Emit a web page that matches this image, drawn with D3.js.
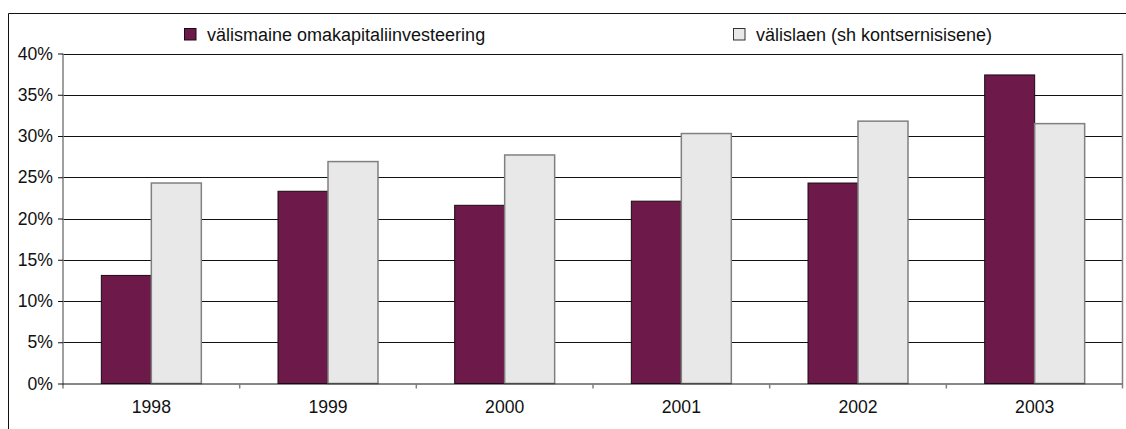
<!DOCTYPE html>
<html>
<head>
<meta charset="utf-8">
<script src="https://cdn.jsdelivr.net/npm/d3@7"></script>
<style>
  html, body { margin: 0; padding: 0; background: #fff; }
  svg { display: block; font-family: "Liberation Sans", Arial, sans-serif; }
</style>
</head>
<body>
<svg id="chart" width="1126" height="429"></svg>
<script>
// Aastad ja näitajad (osakaal, %)
const years = ["1998", "1999", "2000", "2001", "2002", "2003"];
const seriesNames = ["välismaine omakapitaliinvesteering", "välislaen (sh kontsernisisene)"];
const equityValues = [13.1, 23.3, 21.6, 22.1, 24.3, 37.4];
const loanValues = [24.3, 26.9, 27.7, 30.3, 31.8, 31.5];
const yTicks = [0, 5, 10, 15, 20, 25, 30, 35, 40];

const fills = ["#6d1a4a", "#e8e8e8"];
const strokes = ["#1a0a12", "#808080"];
const axisFont = 17.6;
const legendFont = 18;

const svg = d3.select("#chart");
const plot = { left: 63, right: 1123, top: 53.5, bottom: 383.5 };

const x = d3.scaleBand().domain(years).range([plot.left, plot.right]).paddingInner(0).paddingOuter(0);
const xs = d3.scaleBand().domain(seriesNames).range([0, x.bandwidth()]).paddingInner(0).paddingOuter(0.767);
const y = d3.scaleLinear().domain([0, 40]).range([plot.bottom, plot.top]);

// outer chart frame (top and left edges)
svg.append("path")
  .attr("d", `M8.5,429 V13.5 H1126`)
  .attr("fill", "none").attr("stroke", "#111").attr("stroke-width", 1);

// horizontal gridlines
svg.append("g")
  .selectAll("line").data(yTicks.filter(t => t > 0)).join("line")
  .attr("x1", plot.left).attr("x2", plot.right)
  .attr("y1", d => Math.round(y(d)) + 0.5).attr("y2", d => Math.round(y(d)) + 0.5)
  .attr("stroke", "#111").attr("stroke-width", 1);

// plot area right border
svg.append("line")
  .attr("x1", plot.right - 0.5).attr("x2", plot.right - 0.5)
  .attr("y1", plot.top).attr("y2", plot.bottom)
  .attr("stroke", "#808080").attr("stroke-width", 1.5);

// bars
const rows = years.map((yr, i) => ({ year: yr, vals: [equityValues[i], loanValues[i]] }));
const groups = svg.append("g").selectAll("g").data(rows).join("g")
  .attr("transform", d => `translate(${x(d.year)},0)`);
groups.selectAll("rect")
  .data(d => d.vals.map((v, k) => ({ v, k, name: seriesNames[k] })))
  .join("rect")
  .attr("x", d => xs(d.name))
  .attr("width", xs.bandwidth())
  .attr("y", d => y(d.v))
  .attr("height", d => y(0) - y(d.v))
  .attr("fill", d => fills[d.k])
  .attr("stroke", d => strokes[d.k])
  .attr("stroke-width", d => d.k === 0 ? 1 : 1.5);

// y axis
const yAxis = svg.append("g")
  .attr("transform", `translate(${plot.left},0)`)
  .call(d3.axisLeft(y).tickValues(yTicks).tickFormat(d => d + "%").tickSize(5).tickPadding(5));
yAxis.select(".domain").attr("stroke", "#808080").attr("stroke-width", 1.5)
  .attr("d", `M0,${plot.top}V${plot.bottom + 5}`);
yAxis.selectAll(".tick line").attr("stroke", "#111");
yAxis.selectAll("text").attr("font-size", axisFont).attr("fill", "#111")
  .attr("font-family", "Liberation Sans, Arial, sans-serif");

// x axis
const xAxis = svg.append("g")
  .attr("transform", `translate(0,${plot.bottom})`)
  .call(d3.axisBottom(x).tickSize(0).tickPadding(17));
xAxis.select(".domain").attr("stroke", "#111").attr("d", `M${plot.left},0.5H${plot.right}`);
xAxis.selectAll("text").attr("font-size", axisFont).attr("fill", "#111")
  .attr("y", 29.5).attr("dy", null)
  .attr("font-family", "Liberation Sans, Arial, sans-serif");
// category separators below the axis
svg.append("g").selectAll("line")
  .data(years.slice(1).concat(["end"]))
  .join("line")
  .attr("x1", d => d === "end" ? plot.right - 0.5 : x(d))
  .attr("x2", d => d === "end" ? plot.right - 0.5 : x(d))
  .attr("y1", plot.bottom).attr("y2", plot.bottom + 5)
  .attr("stroke", "#808080").attr("stroke-width", 1.5);

// legend
const legendX = [184, 733];
const legend = svg.append("g").selectAll("g").data(seriesNames).join("g")
  .attr("transform", (d, i) => `translate(${legendX[i]},28)`);
legend.append("rect")
  .attr("x", 0.5).attr("y", 0.5).attr("width", 11.5).attr("height", 11.5)
  .attr("fill", (d, i) => fills[i]).attr("stroke", (d, i) => i === 0 ? "#1a0a12" : "#333");
legend.append("text")
  .attr("x", 23).attr("y", 12.8)
  .attr("font-size", legendFont).attr("fill", "#111")
  .text(d => d);
</script>
</body>
</html>
